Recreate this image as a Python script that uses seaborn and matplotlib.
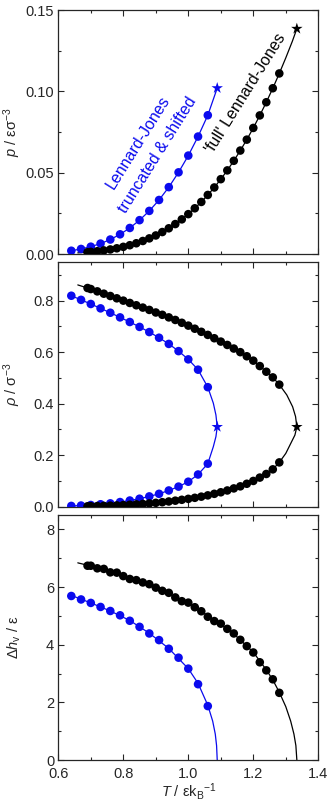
import numpy as np
import pandas as pd
import matplotlib
matplotlib.use("Agg")
import matplotlib.pyplot as plt
import seaborn as sns
from matplotlib.ticker import MultipleLocator

# ---------------- data ----------------
# Lennard-Jones truncated & shifted (blue)
T_ts = [0.64, 0.67, 0.70, 0.73, 0.76, 0.79, 0.82, 0.85, 0.88, 0.91, 0.94, 0.97, 1.00, 1.03, 1.06]
p_ts = [0.0020, 0.0031, 0.0045, 0.0064, 0.0089, 0.0121, 0.0160, 0.0208, 0.0265, 0.0332,
        0.0411, 0.0502, 0.0605, 0.0722, 0.0853]
rhoL_ts = [0.819, 0.803, 0.787, 0.770, 0.753, 0.735, 0.717, 0.698, 0.678, 0.656, 0.632,
           0.604, 0.572, 0.532, 0.464]
rhoV_ts = [0.003, 0.0045, 0.0066, 0.0095, 0.013, 0.018, 0.024, 0.031, 0.040, 0.050, 0.063,
           0.078, 0.097, 0.125, 0.167]
dh_ts = [5.69, 5.57, 5.45, 5.31, 5.17, 5.02, 4.83, 4.62, 4.39, 4.16, 3.86, 3.55, 3.17, 2.63, 1.87]
Tc_ts, pc_ts, rhoc_ts = 1.089, 0.102, 0.31

# full Lennard-Jones (black)
T_lj = [0.69, 0.70, 0.72, 0.74, 0.76, 0.78, 0.80, 0.82, 0.84, 0.86, 0.88, 0.90, 0.92, 0.94,
        0.96, 0.98, 1.00, 1.02, 1.04, 1.06, 1.08, 1.10, 1.12, 1.14, 1.16, 1.18, 1.20, 1.22,
        1.24, 1.26, 1.28]
p_lj = [0.0011, 0.0013, 0.0017, 0.0022, 0.0028, 0.0035, 0.0044, 0.0054, 0.0066, 0.0080,
        0.0096, 0.0114, 0.0135, 0.0158, 0.0184, 0.0213, 0.0245, 0.0281, 0.0320, 0.0363,
        0.0409, 0.0460, 0.0514, 0.0573, 0.0636, 0.0703, 0.0775, 0.0852, 0.0933, 0.1019, 0.1110]
rhoL_lj = [0.849, 0.845, 0.836, 0.827, 0.818, 0.809, 0.800, 0.791, 0.782, 0.773, 0.764,
           0.754, 0.745, 0.735, 0.725, 0.714, 0.703, 0.691, 0.679, 0.667, 0.654, 0.641,
           0.628, 0.614, 0.600, 0.584, 0.567, 0.546, 0.524, 0.502, 0.474]
rhoV_lj = [0.0016, 0.0019, 0.0025, 0.0032, 0.0040, 0.0050, 0.0062, 0.0075, 0.0090, 0.0107,
           0.0127, 0.0150, 0.0175, 0.0203, 0.0234, 0.0268, 0.0305, 0.0345, 0.039, 0.044,
           0.050, 0.056, 0.063, 0.071, 0.079, 0.089, 0.100, 0.113, 0.127, 0.145, 0.172]
dh_lj = [6.74, 6.74, 6.65, 6.63, 6.51, 6.50, 6.38, 6.28, 6.24, 6.16, 6.10, 5.98, 5.87, 5.80,
         5.64, 5.51, 5.46, 5.30, 5.16, 4.97, 4.82, 4.73, 4.55, 4.39, 4.17, 3.95, 3.73, 3.39,
         3.11, 2.80, 2.33]
Tc_lj, pc_lj, rhoc_lj = 1.334, 0.1385, 0.31

# correlation curves
p_fit_lj_T0, p_fit_lj_0 = [0.66], [0.0007]
p_fit_lj_Tend, p_fit_lj_end = [1.30, 1.32], [0.1206, 0.1307]

rho_fit_lj_T0, rhoL_fit_lj_0, rhoV_fit_lj_0 = [0.66], [0.861], [0.0010]
rhoL_fit_lj_Tend, rhoL_fit_lj_end = [1.303, 1.321, 1.330], [0.434, 0.388, 0.350]
rhoV_fit_lj_Tend, rhoV_fit_lj_end = [1.300, 1.313, 1.328], [0.207, 0.240, 0.278]
rhoL_fit_ts_Tend, rhoL_fit_ts_end = [1.077, 1.085], [0.402, 0.356]
rhoV_fit_ts_Tend, rhoV_fit_ts_end = [1.077, 1.085], [0.233, 0.272]

dh_fit_lj_T = [0.66, 0.70, 0.75, 0.80, 0.85, 0.90, 0.95, 1.00, 1.05, 1.10, 1.15, 1.20, 1.24,
               1.26, 1.28, 1.30, 1.315, 1.325, 1.331, 1.334]
dh_fit_lj = [6.84, 6.73, 6.57, 6.40, 6.20, 5.98, 5.72, 5.44, 5.08, 4.70, 4.27, 3.74, 3.13,
             2.78, 2.35, 1.85, 1.35, 0.90, 0.50, 0.0]
dh_fit_ts_T = [0.64, 0.70, 0.76, 0.82, 0.88, 0.94, 1.00, 1.03, 1.06, 1.075, 1.083, 1.087, 1.089]
dh_fit_ts = [5.71, 5.45, 5.17, 4.84, 4.40, 3.87, 3.17, 2.66, 1.90, 1.35, 0.90, 0.50, 0.0]

# ---------------- style ----------------
sns.set_style("ticks")
plt.rcParams["font.family"] = ["Liberation Sans", "DejaVu Sans"]
plt.rcParams["mathtext.fontset"] = "custom"
plt.rcParams["mathtext.rm"] = "Liberation Sans"
plt.rcParams["mathtext.it"] = "Liberation Sans:italic"
plt.rcParams["mathtext.bf"] = "Liberation Sans:bold"
plt.rcParams["axes.linewidth"] = 0.9

BLUE = "#0a0aee"
BLACK = "#000000"
FS = 10.5

fig = plt.figure(figsize=(3.3, 8.02), dpi=100)
left, width = 58.3 / 330, 260 / 330
ax1 = fig.add_axes([left, (802 - 254) / 802, width, 244 / 802])
ax2 = fig.add_axes([left, (802 - 506.7) / 802, width, 244.7 / 802])
ax3 = fig.add_axes([left, (802 - 760) / 802, width, 245 / 802])

def curve(ax, x, y, color):
    df = pd.DataFrame({"x": x, "y": y, "o": np.arange(len(x))})
    sns.lineplot(data=df, x="x", y="y", sort=False, estimator=None, color=color,
                 lw=0.9, ax=ax, zorder=2)

def dots(ax, x, y, color):
    sns.scatterplot(x=x, y=y, color=color, s=38, edgecolor="none", linewidth=0, ax=ax, zorder=3)

def star(ax, x, y, color):
    sns.scatterplot(x=[x], y=[y], color=color, marker="*", s=75, edgecolor="none",
                    linewidth=0, ax=ax, zorder=4)

# ---- panel 1: vapour pressure
curve(ax1, T_ts + [Tc_ts], p_ts + [pc_ts], BLUE)
curve(ax1, p_fit_lj_T0 + T_lj + p_fit_lj_Tend + [Tc_lj], p_fit_lj_0 + p_lj + p_fit_lj_end + [pc_lj], BLACK)
dots(ax1, T_ts, p_ts, BLUE)
dots(ax1, T_lj, p_lj, BLACK)
star(ax1, Tc_ts, pc_ts, BLUE)
star(ax1, Tc_lj, pc_lj, BLACK)
ax1.text(0.876, 0.065, "Lennard-Jones\ntruncated & shifted", rotation=58, color=BLUE,
         ha="center", va="center", fontsize=11.5, linespacing=1.7, rotation_mode="anchor")
ax1.text(1.177, 0.0988, "'full' Lennard-Jones", rotation=58, color=BLACK,
         ha="center", va="center", fontsize=11.5, rotation_mode="anchor")

# ---- panel 2: coexisting densities
xb = rho_fit_lj_T0 + T_lj + rhoL_fit_lj_Tend + [Tc_lj] + rhoV_fit_lj_Tend[::-1] + T_lj[::-1] + rho_fit_lj_T0
yb = rhoL_fit_lj_0 + rhoL_lj + rhoL_fit_lj_end + [rhoc_lj] + rhoV_fit_lj_end[::-1] + rhoV_lj[::-1] + rhoV_fit_lj_0
curve(ax2, xb, yb, BLACK)
xt = T_ts + rhoL_fit_ts_Tend + [Tc_ts] + rhoV_fit_ts_Tend[::-1] + T_ts[::-1]
yt = rhoL_ts + rhoL_fit_ts_end + [rhoc_ts] + rhoV_fit_ts_end[::-1] + rhoV_ts[::-1]
curve(ax2, xt, yt, BLUE)
dots(ax2, T_ts, rhoL_ts, BLUE)
dots(ax2, T_ts, rhoV_ts, BLUE)
dots(ax2, T_lj, rhoL_lj, BLACK)
dots(ax2, T_lj, rhoV_lj, BLACK)
star(ax2, Tc_ts, rhoc_ts, BLUE)
star(ax2, Tc_lj, rhoc_lj, BLACK)

# ---- panel 3: enthalpy of vaporization
curve(ax3, dh_fit_ts_T, dh_fit_ts, BLUE)
curve(ax3, dh_fit_lj_T, dh_fit_lj, BLACK)
dots(ax3, T_ts, dh_ts, BLUE)
dots(ax3, T_lj, dh_lj, BLACK)

# ---- axes formatting
for ax in (ax1, ax2, ax3):
    ax.set_xlim(0.6, 1.4)
    ax.xaxis.set_major_locator(MultipleLocator(0.2))
    ax.xaxis.set_minor_locator(MultipleLocator(0.1))
    ax.tick_params(which="both", direction="in", top=True, right=True, labelsize=FS,
                   width=0.8, pad=3)
    ax.tick_params(axis="x", pad=5)
    ax.tick_params(which="major", length=4.5)
    ax.tick_params(which="minor", length=2.5)
    ax.set_xlabel("")
    for s in ax.spines.values():
        s.set_linewidth(0.9)

ax1.set_ylim(0, 0.15)
ax1.yaxis.set_major_locator(MultipleLocator(0.05))
ax1.yaxis.set_minor_locator(MultipleLocator(0.025))
ax1.yaxis.set_major_formatter(matplotlib.ticker.FormatStrFormatter("%.2f"))
ax1.set_ylabel(r"$p$ / εσ$^{-3}$", fontsize=FS)
ax1.tick_params(labelbottom=False)

ax2.set_ylim(0, 0.95)
ax2.yaxis.set_major_locator(MultipleLocator(0.2))
ax2.yaxis.set_minor_locator(MultipleLocator(0.1))
ax2.yaxis.set_major_formatter(matplotlib.ticker.FormatStrFormatter("%.1f"))
ax2.set_ylabel(r"$\rho$ / σ$^{-3}$", fontsize=FS)
ax2.tick_params(labelbottom=False)

ax3.set_ylim(0, 8.5)
ax3.yaxis.set_major_locator(MultipleLocator(2))
ax3.yaxis.set_minor_locator(MultipleLocator(1))
ax3.xaxis.set_major_formatter(matplotlib.ticker.FormatStrFormatter("%.1f"))
ax3.set_ylabel(r"$\mathit{\Delta}h_{\rm v}$ / ε", fontsize=FS)
ax3.set_xlabel(r"$T$ / εk$_{\rm B}$$^{-1}$", fontsize=FS, labelpad=0)

for ax in (ax1, ax2, ax3):
    ax.yaxis.set_label_coords(-0.135, 0.5)

fig.savefig("out.png", dpi=100)
